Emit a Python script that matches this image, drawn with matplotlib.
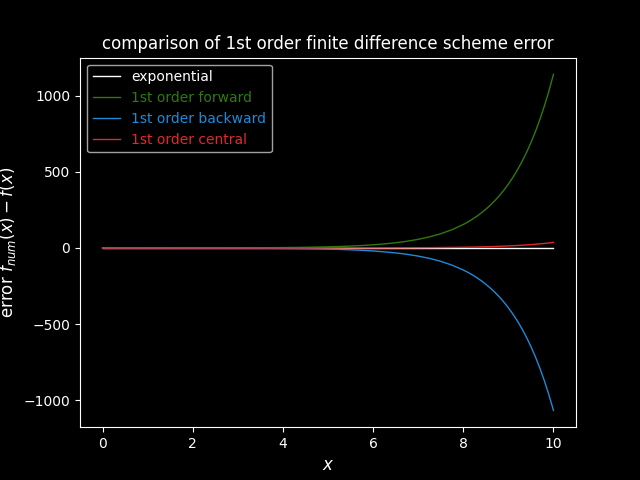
import matplotlib
matplotlib.use("Agg")
import matplotlib.pyplot as plt

plt.style.use("dark_background")

x = [0, 0.25, 0.5, 0.75, 1, 1.25, 1.5, 1.75, 2, 2.25, 2.5, 2.75, 3, 3.25, 3.5, 3.75,
     4, 4.25, 4.5, 4.75, 5, 5.25, 5.5, 5.75, 6, 6.25, 6.5, 6.75, 7, 7.25, 7.5, 7.75,
     8.0, 8.1, 8.2, 8.3, 8.4, 8.5, 8.6, 8.7, 8.8, 8.9, 9.0, 9.1, 9.2, 9.3, 9.4, 9.5,
     9.6, 9.7, 9.8, 9.9, 10.0]

err_exact = [0.0] * len(x)

err_forward = [0.05, 0.07, 0.09, 0.11, 0.14, 0.18, 0.23, 0.30, 0.38, 0.49, 0.63, 0.81,
               1.04, 1.33, 1.71, 2.20, 2.82, 3.63, 4.65, 5.98, 7.67, 9.86, 12.65, 16.25,
               20.86, 26.79, 34.39, 44.17, 56.71, 72.81, 93.49, 120.05,
               154.14, 170.35, 188.27, 208.07, 229.95, 254.14, 280.87, 310.40, 343.05,
               379.13, 419.00, 463.07, 511.77, 565.60, 625.08, 690.81, 763.47, 843.76,
               932.50, 1030.57, 1138.97]

err_backward = [-0.05, -0.06, -0.08, -0.10, -0.13, -0.17, -0.22, -0.28, -0.36, -0.46,
                -0.59, -0.76, -0.97, -1.25, -1.60, -2.06, -2.64, -3.39, -4.35, -5.59,
                -7.18, -9.22, -11.84, -15.20, -19.51, -25.06, -32.17, -41.31, -53.04,
                -68.11, -87.45, -112.29,
                -144.20, -159.37, -176.13, -194.65, -215.12, -237.75, -262.75, -290.39,
                -320.92, -354.68, -391.98, -433.20, -478.76, -529.11, -584.76, -646.26,
                -714.23, -789.35, -872.37, -964.12, -1065.51]

err_central = [0.002, 0.002, 0.003, 0.004, 0.005, 0.006, 0.007, 0.010, 0.012, 0.016,
               0.020, 0.026, 0.034, 0.043, 0.055, 0.071, 0.091, 0.117, 0.150, 0.193,
               0.248, 0.318, 0.408, 0.524, 0.673, 0.864, 1.109, 1.425, 1.829, 2.349,
               3.016, 3.872,
               4.97, 5.49, 6.07, 6.71, 7.42, 8.20, 9.06, 10.01, 11.06, 12.23, 13.51,
               14.93, 16.50, 18.24, 20.16, 22.28, 24.62, 27.21, 30.07, 33.23, 36.73]

fig, ax = plt.subplots(figsize=(6.4, 4.8), dpi=100)
ax.plot(x, err_exact, color="white", lw=1, label="exponential")
ax.plot(x, err_forward, color="#2f7a0c", lw=1, label="1st order forward")
ax.plot(x, err_backward, color="#1f8ad8", lw=1, label="1st order backward")
ax.plot(x, err_central, color="#e02a2a", lw=1, label="1st order central")

ax.set_title("comparison of 1st order finite difference scheme error", fontsize=12)
ax.set_xlabel(r"$x$", fontsize=12)
ax.set_ylabel(r"error $f_{num}(x) - f(x)$", fontsize=12)
ax.legend(loc="upper left", labelcolor="linecolor")

fig.savefig("out.png", dpi=100)
